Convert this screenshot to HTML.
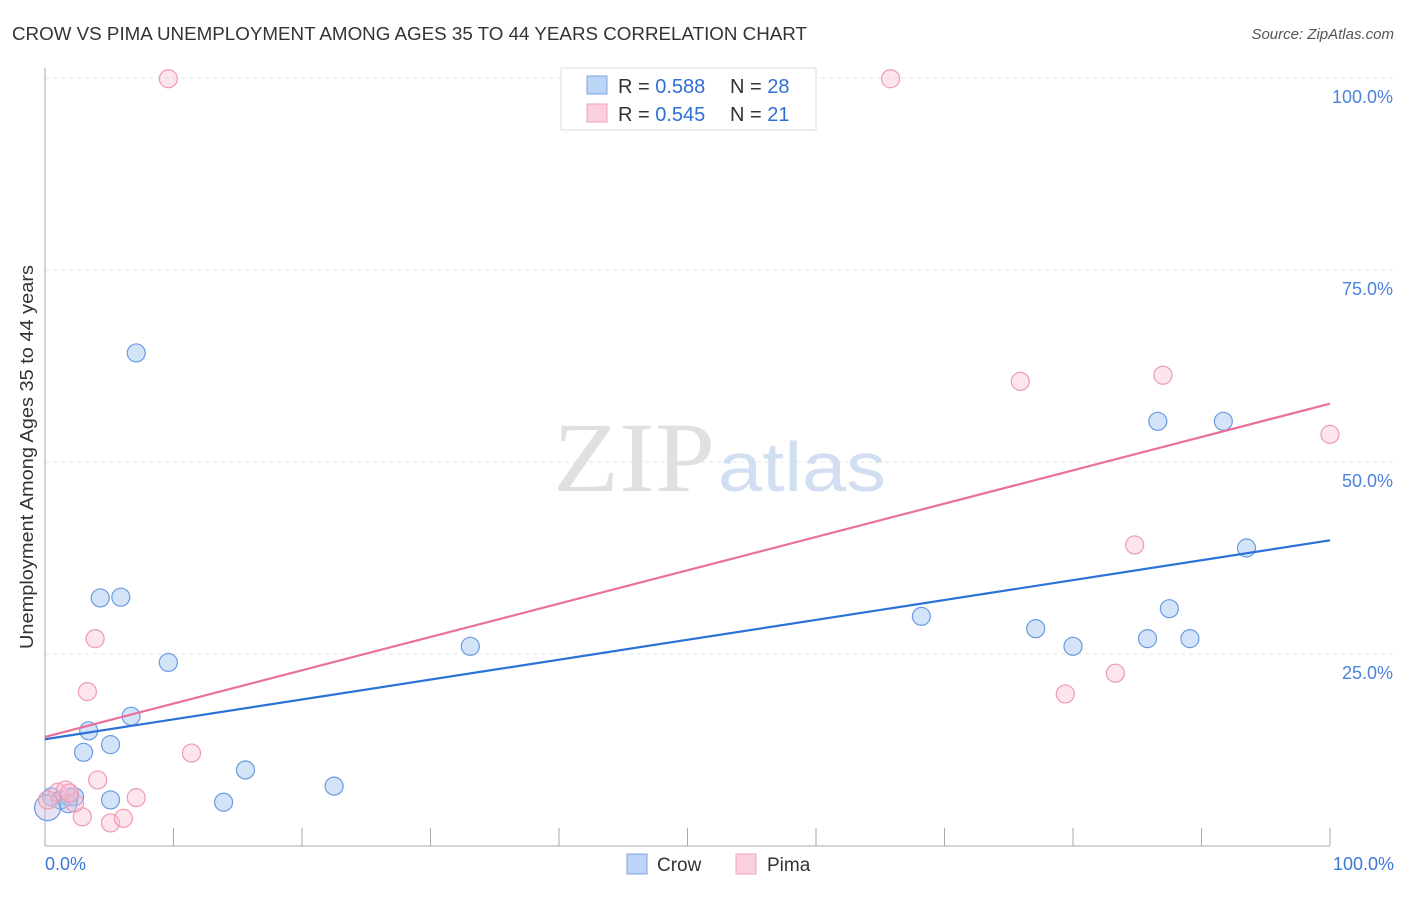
<!DOCTYPE html>
<html><head><meta charset="utf-8"><style>
body{margin:0;background:#fff;font-family:"Liberation Sans",sans-serif;}
</style></head><body>
<svg id="c" width="1406" height="892" font-family="Liberation Sans, sans-serif">
<text x="12" y="40" font-size="18" fill="#333" textLength="795" lengthAdjust="spacingAndGlyphs">CROW VS PIMA UNEMPLOYMENT AMONG AGES 35 TO 44 YEARS CORRELATION CHART</text>
<text x="1394" y="39" font-size="15" fill="#555" font-style="italic" text-anchor="end">Source: ZipAtlas.com</text>
<text x="33" y="457" font-size="18" fill="#333" text-anchor="middle" textLength="384" lengthAdjust="spacingAndGlyphs" transform="rotate(-90 33 457)">Unemployment Among Ages 35 to 44 years</text>
<g id="grid"></g>
<text x="553" y="491" font-size="100" fill="#e0e0e0" style="font-family:'Liberation Serif',serif" textLength="162" lengthAdjust="spacingAndGlyphs">ZIP</text>
<text x="718" y="491" font-size="70" fill="#d2def2" textLength="168" lengthAdjust="spacingAndGlyphs">atlas</text>
<line x1="45" y1="68" x2="45" y2="846" stroke="#aaa"/>
<line x1="45" y1="846" x2="1330" y2="846" stroke="#aaa"/>
<g id="pts"></g>
<text x="45" y="870" font-size="18" fill="#3a78d8">0.0%</text>
<text x="1394" y="870" font-size="18" fill="#3a78d8" text-anchor="end">100.0%</text>
<g>
<rect x="561" y="68" width="255" height="62" fill="#fff" stroke="#ddd"/>
<rect x="587" y="76" width="20" height="18" fill="#bcd4f6" stroke="#7aa5e6"/>
<rect x="587" y="104" width="20" height="18" fill="#fbd0dc" stroke="#f0a0b8"/>
<text x="618" y="93" font-size="20" fill="#333">R = <tspan fill="#2e6fd6">0.588</tspan></text>
<text x="730" y="93" font-size="20" fill="#333">N = <tspan fill="#2e6fd6">28</tspan></text>
<text x="618" y="121" font-size="20" fill="#333">R = <tspan fill="#2e6fd6">0.545</tspan></text>
<text x="730" y="121" font-size="20" fill="#333">N = <tspan fill="#2e6fd6"> 21</tspan></text>
</g>
<g>
<rect x="627" y="854" width="20" height="20" fill="#bcd4f6" stroke="#7aa5e6"/>
<text x="657" y="871" font-size="19" fill="#333">Crow</text>
<rect x="736" y="854" width="20" height="20" fill="#fbd0dc" stroke="#f0a0b8"/>
<text x="767" y="871" font-size="19" fill="#333">Pima</text>
</g>
</svg>
<script>
const crowX=[7.1,4.3,5.9,9.6,6.7,3.4,3.0,5.1,15.6,22.5,13.9,5.1,33.1,68.2,77.1,80.0,86.6,91.7,93.5,87.5,85.8,89.1,0.5,1.2,1.9,2.3,1.8,0.2];
const crowY=[64.2,32.3,32.4,23.9,16.9,15.0,12.2,13.2,9.9,7.8,5.7,6.0,26.0,29.9,28.3,26.0,55.3,55.3,38.8,30.9,27.0,27.0,6.4,6.0,6.4,6.4,5.5,5.0];
const pimaX=[9.6,65.8,75.9,87.0,100,84.8,79.4,83.3,3.9,3.3,11.4,4.1,7.1,2.9,5.1,6.1,1.0,1.6,2.3,0.2,1.9];
const pimaY=[99.9,99.9,60.5,61.3,53.6,39.2,19.8,22.5,27.0,20.1,12.1,8.6,6.3,3.8,3.0,3.6,7.0,7.3,5.6,6.0,6.9];
const crowTrend=[13.9,39.8];
const pimaTrend=[14.2,57.6];
const yTicks=[25,50,75,100];
const yTickLabels=["25.0%","50.0%","75.0%","100.0%"];
const xTicks=[10,20,30,40,50,60,70,80,90,100];
const NS='http://www.w3.org/2000/svg';
const sx=v=>45+v*12.85, sy=v=>846-v*7.68;
function mk(t,a,p){const e=document.createElementNS(NS,t);for(const k in a)e.setAttribute(k,a[k]);p.appendChild(e);return e;}
const g=document.getElementById('grid'), P=document.getElementById('pts');
yTicks.forEach((v,i)=>{
 const l=mk('line',{x1:45,x2:1394,y1:sy(v),y2:sy(v),stroke:'#e4e4e4','stroke-dasharray':'4,4'},g);
 
 
 const t=mk('text',{x:1393,y:sy(v)+25,'font-size':18,fill:'#4a84dc','text-anchor':'end'},g);
 t.textContent=yTickLabels[i];
 
 
});
xTicks.forEach(v=>{
 const l=mk('line',{x1:sx(v),x2:sx(v),y1:828,y2:846,stroke:'#aaa'},g);
 
 
});
function dots(X,Y,fill,stroke,name){X.forEach((x,i)=>{
 const big=(x<1&&Y[i]<5.5);
 const c=mk('circle',{cx:sx(x),cy:sy(Y[i]),r:big?13:9,fill:big?'rgba(200,190,225,0.45)':fill,stroke:stroke,'stroke-width':1.2},P);
 
 
});}
dots(crowX,crowY,'rgba(160,195,240,0.45)','#6a9be0','crow-point');
dots(pimaX,pimaY,'rgba(250,190,210,0.4)','#ee9ab4','pima-point');
const l1=mk('line',{x1:sx(0),y1:sy(crowTrend[0]),x2:sx(100),y2:sy(crowTrend[1]),stroke:'#2a72d8','stroke-width':2.2},P);


const l2=mk('line',{x1:sx(0),y1:sy(pimaTrend[0]),x2:sx(100),y2:sy(pimaTrend[1]),stroke:'#e8709a','stroke-width':2.2},P);


</script>
</body></html>
